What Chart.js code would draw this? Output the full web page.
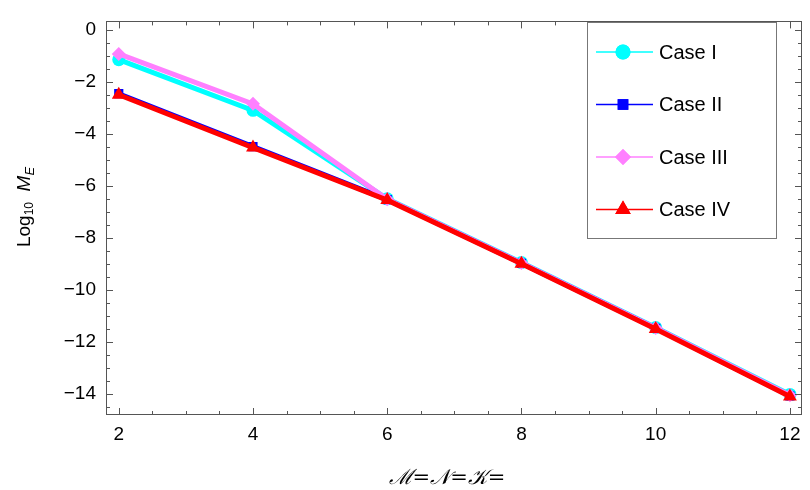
<!DOCTYPE html>
<html>
<head>
<meta charset="utf-8">
<script src="https://cdn.jsdelivr.net/npm/chart.js@4.4.1/dist/chart.umd.min.js"></script>
<style>
  html, body { margin: 0; padding: 0; background: #fff; }
  #wrap { width: 810px; height: 490px; }
</style>
</head>
<body>
<div id="wrap"><canvas id="errChart" width="810" height="490"></canvas></div>
<script>
// values (Log10 of the max error)
const sizes = [2, 4, 6, 8, 10, 12];
const caseI = [-1.15, -3.1, -6.5, -8.95, -11.45, -14.02];
const caseII = [-2.46, -4.49, -6.53, -8.98, -11.48, -14.08];
const caseIII = [-0.93, -2.85, -6.52, -8.97, -11.47, -14.05];
const caseIV = [-2.5, -4.53, -6.55, -9.0, -11.5, -14.1];
const caseLabels = ["Case I", "Case II", "Case III", "Case IV"];

const xTicks = [2, 4, 6, 8, 10, 12];
const yTicks = [-14, -12, -10, -8, -6, -4, -2, 0];

const FONT = "'Liberation Sans', Arial, sans-serif";
const frameColor = "#555";

function pts(ys) {
  return sizes.map((x, i) => ({ x: x, y: ys[i] }));
}

const styles = [
  { color: "#00ffff", pointStyle: "circle", radius: 6.5, order: 4 },
  { color: "#0000ff", pointStyle: "rect", radius: 6.5, order: 3 },
  { color: "#ff80ff", pointStyle: "rectRot", radius: 7, order: 2 },
  { color: "#ff0000", pointStyle: "triangle", radius: 8, order: 1 }
];
const series = [caseI, caseII, caseIII, caseIV];

const datasets = series.map((ys, i) => ({
  label: caseLabels[i],
  data: pts(ys),
  borderColor: styles[i].color,
  backgroundColor: styles[i].color,
  pointBackgroundColor: styles[i].color,
  pointBorderColor: styles[i].color,
  pointBorderWidth: 0,
  pointStyle: styles[i].pointStyle,
  pointRadius: styles[i].radius,
  borderWidth: 5,
  order: styles[i].order,
  tension: 0
}));

// frame with inward ticks on all four sides, Mathematica style
const framePlugin = {
  id: "frame",
  afterDraw(chart) {
    const { ctx, chartArea: a, scales } = chart;
    const xs = scales.x, ys = scales.y;
    ctx.save();
    ctx.strokeStyle = frameColor;
    ctx.lineWidth = 1;
    ctx.strokeRect(Math.round(a.left) + 0.5, Math.round(a.top) + 0.5,
      Math.round(a.right - a.left) - 1, Math.round(a.bottom - a.top) - 1);
    ctx.beginPath();
    for (let v = 2; v <= 12.001; v += 0.5) {
      const len = Math.abs(v - Math.round(v / 2) * 2) < 1e-6 ? 7 : 4;
      const px = Math.round(xs.getPixelForValue(v)) + 0.5;
      ctx.moveTo(px, a.bottom); ctx.lineTo(px, a.bottom - len);
      ctx.moveTo(px, a.top); ctx.lineTo(px, a.top + len);
    }
    for (let v = -14.5; v <= 0.001; v += 0.5) {
      const len = Math.abs(v - Math.round(v / 2) * 2) < 1e-6 ? 7 : 4;
      const py = Math.round(ys.getPixelForValue(v)) + 0.5;
      ctx.moveTo(a.left, py); ctx.lineTo(a.left + len, py);
      ctx.moveTo(a.right, py); ctx.lineTo(a.right - len, py);
    }
    ctx.stroke();

    // y axis title: Log10 M_E
    ctx.fillStyle = "#000";
    ctx.translate(25, 207);
    ctx.rotate(-Math.PI / 2);
    const parts = [
      { t: "Log", f: "19px " + FONT, dy: 0 },
      { t: "10", f: "12px " + FONT, dy: 5 },
      { t: "  ", f: "19px " + FONT, dy: 0 },
      { t: "M", f: "italic 19px " + FONT, dy: 0 },
      { t: "E", f: "italic 13px " + FONT, dy: 5 }
    ];
    let w = 0;
    parts.forEach(p => { ctx.font = p.f; w += ctx.measureText(p.t).width; });
    let cx = -w / 2;
    ctx.textBaseline = "middle";
    parts.forEach(p => {
      ctx.font = p.f;
      ctx.fillText(p.t, cx, p.dy);
      cx += ctx.measureText(p.t).width;
    });
    ctx.restore();

    // x axis title
    ctx.save();
    ctx.fillStyle = "#000";
    ctx.font = "italic 21px 'DejaVu Serif', serif";
    ctx.textAlign = "center";
    ctx.textBaseline = "middle";
    ctx.fillText("\u2133=\uD835\uDCA9=\uD835\uDCA6=", 447, 479);
    ctx.restore();
  }
};

// boxed legend with line + marker samples
const legendPlugin = {
  id: "boxLegend",
  afterDraw(chart) {
    const ctx = chart.ctx;
    const box = { x: 587, y: 22, w: 189, h: 216 };
    ctx.save();
    ctx.fillStyle = "#fff";
    ctx.fillRect(box.x, box.y, box.w, box.h);
    ctx.strokeStyle = "#777";
    ctx.lineWidth = 1;
    ctx.strokeRect(box.x + 0.5, box.y + 0.5, box.w, box.h);
    chart.data.datasets.forEach((ds, i) => {
      const y = 52 + i * 52.5;
      ctx.strokeStyle = ds.borderColor;
      ctx.lineWidth = 1.5;
      ctx.beginPath();
      ctx.moveTo(596, y); ctx.lineTo(653, y);
      ctx.stroke();
      ctx.fillStyle = ds.backgroundColor;
      Chart.helpers.drawPoint(ctx, {
        pointStyle: ds.pointStyle, radius: ds.pointRadius + 1, borderWidth: 0, rotation: 0
      }, 623, y);
      ctx.fill();
      ctx.fillStyle = "#000";
      ctx.font = "20px " + FONT;
      ctx.textBaseline = "middle";
      ctx.fillText(ds.label, 659, y + 1);
    });
    ctx.restore();
  }
};

new Chart(document.getElementById("errChart"), {
  type: "line",
  data: { datasets: datasets },
  options: {
    responsive: false,
    animation: false,
    layout: { padding: { top: 7, right: 2, left: 0, bottom: 0 } },
    plugins: { legend: { display: false }, tooltip: { enabled: false } },
    scales: {
      x: {
        type: "linear",
        min: 1.81,
        max: 12.18,
        afterBuildTicks: s => { s.ticks = xTicks.map(v => ({ value: v })); },
        afterFit: s => { s.height = 75; },
        grid: { display: false, drawTicks: false },
        border: { display: false },
        ticks: { color: "#000", padding: 8, font: { family: FONT, size: 19 } }
      },
      y: {
        type: "linear",
        min: -14.81,
        max: 0.32,
        afterBuildTicks: s => { s.ticks = yTicks.map(v => ({ value: v })); },
        afterFit: s => { s.width = 106; },
        grid: { display: false, drawTicks: false },
        border: { display: false },
        ticks: {
          color: "#000", padding: 10, font: { family: FONT, size: 19 },
          callback: v => String(v).replace("-", "\u2212")
        }
      }
    }
  },
  plugins: [framePlugin, legendPlugin]
});
</script>
</body>
</html>
